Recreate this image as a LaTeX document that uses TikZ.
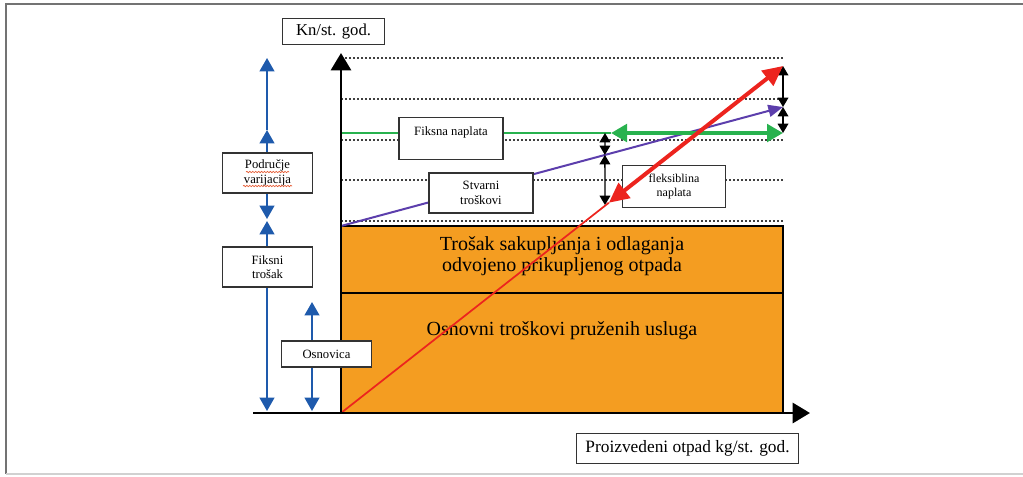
\documentclass[tikz,border=0pt]{standalone}
\usepackage{fontspec}
\setmainfont{Liberation Serif}
\usetikzlibrary{arrows.meta,calc,decorations.pathmorphing}

\definecolor{costorange}{RGB}{244,157,33}
\definecolor{rangeblue}{RGB}{30,90,172}
\definecolor{fixgreen}{RGB}{40,178,78}
\definecolor{realpurple}{RGB}{92,62,172}
\definecolor{flexred}{RGB}{236,36,30}
\definecolor{spellred}{RGB}{230,90,50}

\begin{document}
\begin{tikzpicture}[x=0.75pt,y=-0.75pt,
  labelbox/.style={draw=black!80,fill=white,line width=0.9pt,align=center,%
    inner sep=1pt,font=\fontsize{9.5}{11}\selectfont},
  guide/.style={black!75,line width=0.8pt,dash pattern=on 1.5pt off 1.5pt},
  axis/.style={line width=2.2pt,-{Triangle[length=13pt,width=15pt]}},
  blocktext/.style={align=center,font=\fontsize{15}{16}\selectfont},
  bluearrow/.style={rangeblue,line width=1.5pt,>={Triangle[length=10pt,width=11pt]}},
  dimarrow/.style={black,line width=1pt,>={Triangle[length=7pt,width=8pt]}}]

  \useasboundingbox (0,0) rectangle (1023,476);

  % frame
  \draw[black!55,line width=1.5pt] (1023,4) -- (6,4) -- (6,474);
  \draw[black!18,line width=1.5pt] (6,474) -- (1023,474);

  % dotted levels
  \foreach \gy in {58,99,140,180,221}
    \draw[guide] (341,\gy) -- (783,\gy);

  % cost blocks
  \draw[fill=costorange,line width=1.5pt] (341,226) rectangle (783,413);
  \draw[line width=1.5pt] (341,293) -- (783,293);
  \node[blocktext] (sakupljanje) at (562,256)
    {Trošak sakupljanja i odlaganja\\odvojeno prikupljenog otpada};
  \node[blocktext] (osnovni) at (562,331) {Osnovni troškovi pruženih usluga};

  % points
  \coordinate (O) at (341,413);
  \coordinate (ytip) at (341,53);
  \coordinate (xbeg) at (253,413);
  \coordinate (xtip) at (810,413);
  \coordinate (realA) at (341,226);
  \coordinate (realB) at (783,107);
  \coordinate (fixA) at (341,133);
  \coordinate (fixM) at (611,133);
  \coordinate (fixB) at (783,133);
  \coordinate (flexB) at (783,66);
  \coordinate (flexM) at ($(O)!0.606!(flexB)$);
  \coordinate (d1) at (605,133);
  \coordinate (d2) at ($(realA)!0.597!(realB)$);
  \coordinate (d3) at (605,205);

  % charges
  \draw[realpurple,line width=1.5pt,-{Triangle[length=11pt,width=9pt]}] (realA) -- (realB);
  \draw[fixgreen,line width=1.2pt] (fixA) -- (fixM);
  \draw[fixgreen,line width=3.5pt,{Triangle[length=12pt,width=13pt]}-{Triangle[length=12pt,width=13pt]}]
    (fixM) -- (fixB);

  \node[labelbox,minimum width=78pt,minimum height=31pt] (fiksna) at (451,138.5)
    {Fiksna naplata\\\mbox{}};
  \node[labelbox,minimum width=78pt,minimum height=30pt] (stvarni) at (481,193)
    {Stvarni\\troškovi};
  \node[labelbox,minimum width=77pt,minimum height=31pt,font=\fontsize{9}{11}\selectfont]
    (fleks) at (674,186.5) {fleksiblina\\naplata};

  \draw[dimarrow,<->] (d1) -- (d2);
  \draw[dimarrow,<->] (d2) -- (d3);
  \draw[dimarrow,<->] (flexB) -- (realB);
  \draw[dimarrow,<->] (realB) -- (fixB);

  \draw[flexred,line width=1.3pt] (O) -- (flexM);
  \draw[flexred,line width=3pt,{Triangle[length=15pt,width=14pt]}-{Triangle[length=15pt,width=14pt]}]
    (flexM) -- (flexB);

  % axes
  \draw[axis] (xbeg) -- (xtip);
  \draw[axis] (O) -- (ytip);

  % ranges on the left
  \coordinate (bl0) at (267,411);
  \coordinate (bl1) at (267,221);
  \coordinate (bl2) at (267,219);
  \coordinate (bl3) at (267,130);
  \coordinate (bl4) at (267,58);
  \coordinate (os0) at (312,411);
  \coordinate (os1) at (312,302);
  \draw[bluearrow,<->] (bl1) -- (bl0);
  \draw[bluearrow,<->] (bl3) -- (bl2);
  \draw[bluearrow,->] (bl3) -- (bl4);
  \draw[bluearrow,<->] (os1) -- (os0);

  \node[labelbox,minimum width=67pt,minimum height=30pt] (podrucje) at (267.5,173)
    {Područje\\varijacija};
  \draw[spellred,line width=0.5pt,decorate,decoration={snake,amplitude=0.5pt,segment length=2.2pt}]
    (246,172) -- (289,172);
  \draw[spellred,line width=0.5pt,decorate,decoration={snake,amplitude=0.5pt,segment length=2.2pt}]
    (243,186) -- (292,186);
  \node[labelbox,minimum width=67pt,minimum height=30pt] (fiksni) at (267.5,267)
    {Fiksni\\trošak};
  \node[labelbox,minimum width=67pt,minimum height=19.5pt] (osnovica) at (326.5,354)
    {Osnovica};

  % axis names
  \node[labelbox,minimum width=77pt,minimum height=20pt,font=\fontsize{12.5}{14}\selectfont]
    (yname) at (333.5,31.5) {Kn/st. god.};
  \node[labelbox,minimum width=167pt,minimum height=22pt,font=\fontsize{13}{15}\selectfont]
    (xname) at (687.5,448.5) {Proizvedeni otpad kg/st. god.};
\end{tikzpicture}
\end{document}
